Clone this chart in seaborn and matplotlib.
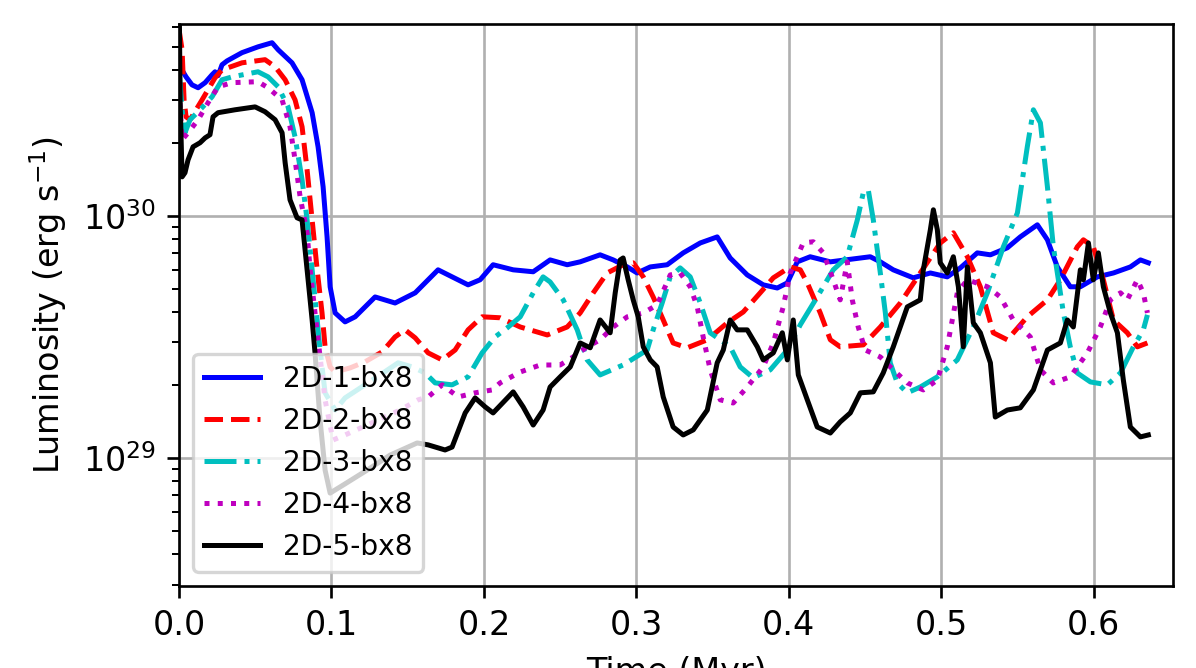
import numpy as np
import pandas as pd
import matplotlib
matplotlib.use("Agg")
import matplotlib.pyplot as plt
import seaborn as sns

# Tempo (Myr) e log10 da luminosidade (erg/s)
t1 = [0.0, 0.0026, 0.0046, 0.0085, 0.0125, 0.0171, 0.0217, 0.0236, 0.0256, 0.0282, 0.0315,
      0.0413, 0.0518, 0.0610, 0.0650, 0.0741, 0.0807, 0.0873, 0.0912, 0.0945, 0.0971, 0.0991,
      0.1024, 0.1089, 0.1155, 0.1286, 0.1417, 0.1549, 0.1699, 0.1896, 0.1975, 0.2060, 0.2192,
      0.2323, 0.2434, 0.2546, 0.2631, 0.2762, 0.2848, 0.2940, 0.3005, 0.3091, 0.3202, 0.3307,
      0.3419, 0.3530, 0.3615, 0.3727, 0.3832, 0.3924, 0.3990, 0.4055, 0.4140, 0.4272, 0.4534,
      0.4600, 0.4685, 0.4816, 0.4928, 0.5039, 0.5125, 0.5236, 0.5322, 0.5433, 0.5518, 0.5630,
      0.5696, 0.5761, 0.5846, 0.5912, 0.6024, 0.6129, 0.6240, 0.6306, 0.6358]
l1 = [30.610, 30.595, 30.574, 30.541, 30.529, 30.550, 30.583, 30.595, 30.579, 30.624, 30.640,
      30.674, 30.698, 30.715, 30.686, 30.632, 30.562, 30.426, 30.285, 30.120, 29.913, 29.707,
      29.599, 29.562, 29.583, 29.665, 29.640, 29.682, 29.777, 29.715, 29.736, 29.798, 29.777,
      29.769, 29.818, 29.798, 29.810, 29.839, 29.818, 29.789, 29.764, 29.789, 29.798, 29.847,
      29.888, 29.913, 29.826, 29.756, 29.715, 29.702, 29.723, 29.810, 29.831, 29.810, 29.831,
      29.810, 29.777, 29.744, 29.764, 29.748, 29.785, 29.847, 29.839, 29.868, 29.913, 29.963,
      29.901, 29.789, 29.707, 29.707, 29.748, 29.764, 29.789, 29.818, 29.806]

t2 = [0.0, 0.0020, 0.0033, 0.0046, 0.0072, 0.0151, 0.0236, 0.0282, 0.0413, 0.0564, 0.0630,
      0.0696, 0.0761, 0.0807, 0.0840, 0.0873, 0.0906, 0.0938, 0.0958, 0.0991, 0.1024, 0.1122,
      0.1220, 0.1332, 0.1417, 0.1483, 0.1549, 0.1634, 0.1726, 0.1811, 0.1896, 0.1988, 0.2106,
      0.2238, 0.2415, 0.2546, 0.2631, 0.2717, 0.2808, 0.2913, 0.2979, 0.3045, 0.3110, 0.3176,
      0.3241, 0.3333, 0.3465, 0.3596, 0.3701, 0.3812, 0.3898, 0.4009, 0.4075, 0.4121, 0.4206,
      0.4272, 0.4337, 0.4488, 0.4600, 0.4731, 0.4862, 0.4993, 0.5079, 0.5171, 0.5256, 0.5341,
      0.5433, 0.5564, 0.5696, 0.5781, 0.5892, 0.5932, 0.5997, 0.6063, 0.6129, 0.6220, 0.6286,
      0.6352]
l2 = [30.769, 30.686, 30.479, 30.409, 30.397, 30.479, 30.570, 30.603, 30.632, 30.645, 30.616,
      30.562, 30.479, 30.368, 30.190, 29.983, 29.777, 29.599, 29.459, 29.376, 29.355, 29.372,
      29.397, 29.438, 29.500, 29.529, 29.496, 29.434, 29.405, 29.446, 29.529, 29.583, 29.579,
      29.541, 29.508, 29.541, 29.599, 29.682, 29.764, 29.798, 29.806, 29.748, 29.665, 29.570,
      29.475, 29.455, 29.488, 29.558, 29.603, 29.682, 29.744, 29.789, 29.777, 29.723, 29.599,
      29.488, 29.459, 29.467, 29.541, 29.640, 29.764, 29.888, 29.930, 29.831, 29.707, 29.517,
      29.488, 29.583, 29.653, 29.736, 29.872, 29.901, 29.872, 29.736, 29.570, 29.517, 29.459,
      29.475]

t3 = [0.0, 0.0020, 0.0039, 0.0072, 0.0138, 0.0217, 0.0282, 0.0348, 0.0518, 0.0584, 0.0650,
      0.0715, 0.0761, 0.0807, 0.0840, 0.0873, 0.0906, 0.0925, 0.0958, 0.1024, 0.1089, 0.1188,
      0.1319, 0.1437, 0.1529, 0.1614, 0.1680, 0.1791, 0.1896, 0.1988, 0.2073, 0.2152, 0.2238,
      0.2323, 0.2388, 0.2434, 0.2520, 0.2612, 0.2677, 0.2762, 0.2913, 0.3071, 0.3110, 0.3169,
      0.3222, 0.3287, 0.3353, 0.3419, 0.3484, 0.3550, 0.3615, 0.3681, 0.3766, 0.3878, 0.3990,
      0.4075, 0.4186, 0.4291, 0.4383, 0.4449, 0.4488, 0.4521, 0.4554, 0.4600, 0.4633, 0.4665,
      0.4711, 0.4777, 0.4862, 0.4974, 0.5105, 0.5210, 0.5302, 0.5407, 0.5499, 0.5564, 0.5604,
      0.5650, 0.5696, 0.5735, 0.5801, 0.5846, 0.5892, 0.5978, 0.6089, 0.6175, 0.6260, 0.6325,
      0.6352]
l3 = [30.603, 30.438, 30.343, 30.397, 30.438, 30.492, 30.562, 30.574, 30.595, 30.574, 30.533,
      30.450, 30.326, 30.149, 29.983, 29.777, 29.570, 29.446, 29.269, 29.198, 29.248, 29.289,
      29.343, 29.393, 29.376, 29.351, 29.310, 29.302, 29.335, 29.434, 29.500, 29.537, 29.583,
      29.682, 29.748, 29.727, 29.653, 29.529, 29.405, 29.343, 29.384, 29.446, 29.529, 29.640,
      29.748, 29.785, 29.748, 29.640, 29.517, 29.488, 29.459, 29.376, 29.331, 29.364, 29.446,
      29.550, 29.665, 29.777, 29.831, 29.983, 30.095, 30.107, 29.983, 29.764, 29.599, 29.393,
      29.310, 29.269, 29.293, 29.335, 29.405, 29.541, 29.682, 29.872, 30.012, 30.285, 30.438,
      30.384, 30.120, 29.872, 29.599, 29.459, 29.351, 29.314, 29.302, 29.351, 29.459, 29.529,
      29.591]

t4 = [0.0, 0.0020, 0.0059, 0.0125, 0.0190, 0.0256, 0.0348, 0.0518, 0.0584, 0.0676, 0.0728,
      0.0761, 0.0794, 0.0840, 0.0860, 0.0892, 0.0912, 0.0958, 0.1010, 0.1089, 0.1234, 0.1450,
      0.1568, 0.1634, 0.1726, 0.1831, 0.1942, 0.2054, 0.2106, 0.2238, 0.2369, 0.2500, 0.2585,
      0.2677, 0.2762, 0.2848, 0.2940, 0.3045, 0.3136, 0.3222, 0.3287, 0.3353, 0.3399, 0.3438,
      0.3484, 0.3550, 0.3635, 0.3727, 0.3832, 0.3898, 0.3963, 0.4009, 0.4094, 0.4160, 0.4226,
      0.4291, 0.4337, 0.4383, 0.4416, 0.4455, 0.4501, 0.4600, 0.4685, 0.4777, 0.4882, 0.4974,
      0.5039, 0.5105, 0.5171, 0.5302, 0.5387, 0.5472, 0.5584, 0.5650, 0.5735, 0.5846, 0.5958,
      0.6043, 0.6109, 0.6175, 0.6220, 0.6286, 0.6325, 0.6352]
l4 = [30.521, 30.314, 30.343, 30.397, 30.467, 30.533, 30.550, 30.554, 30.529, 30.479, 30.368,
      30.231, 30.079, 29.930, 29.777, 29.599, 29.488, 29.240, 29.074, 29.095, 29.136, 29.198,
      29.240, 29.252, 29.302, 29.252, 29.269, 29.281, 29.310, 29.355, 29.384, 29.384, 29.417,
      29.459, 29.488, 29.541, 29.583, 29.599, 29.632, 29.756, 29.764, 29.707, 29.624, 29.500,
      29.364, 29.240, 29.227, 29.293, 29.376, 29.475, 29.624, 29.764, 29.888, 29.893, 29.847,
      29.736, 29.653, 29.810, 29.653, 29.541, 29.446, 29.417, 29.364, 29.310, 29.281, 29.322,
      29.459, 29.682, 29.736, 29.707, 29.665, 29.570, 29.500, 29.364, 29.310, 29.335, 29.434,
      29.541, 29.653, 29.682, 29.653, 29.736, 29.682, 29.599]

t5 = [0.0, 0.0007, 0.0020, 0.0039, 0.0059, 0.0092, 0.0138, 0.0171, 0.0203, 0.0223, 0.0256,
      0.0367, 0.0499, 0.0564, 0.0630, 0.0676, 0.0696, 0.0728, 0.0774, 0.0807, 0.0840, 0.0873,
      0.0892, 0.0925, 0.0958, 0.0991, 0.1089, 0.1234, 0.1385, 0.1562, 0.1634, 0.1745, 0.1791,
      0.1877, 0.1942, 0.2008, 0.2060, 0.2192, 0.2257, 0.2323, 0.2388, 0.2434, 0.2500, 0.2566,
      0.2631, 0.2697, 0.2762, 0.2828, 0.2861, 0.2894, 0.2913, 0.2946, 0.2979, 0.3012, 0.3045,
      0.3091, 0.3136, 0.3176, 0.3241, 0.3307, 0.3373, 0.3465, 0.3530, 0.3570, 0.3615, 0.3661,
      0.3727, 0.3793, 0.3832, 0.3898, 0.3957, 0.3990, 0.4029, 0.4062, 0.4121, 0.4186, 0.4272,
      0.4337, 0.4403, 0.4469, 0.4554, 0.4619, 0.4685, 0.4777, 0.4862, 0.4882, 0.4928, 0.4948,
      0.4974, 0.4993, 0.5039, 0.5079, 0.5112, 0.5144, 0.5171, 0.5210, 0.5256, 0.5322, 0.5354,
      0.5433, 0.5518, 0.5604, 0.5696, 0.5781, 0.5827, 0.5866, 0.5912, 0.5932, 0.5965, 0.5997,
      0.6030, 0.6063, 0.6109, 0.6155, 0.6194, 0.6240, 0.6306, 0.6358]
l5 = [30.975, 30.479, 30.161, 30.178, 30.231, 30.285, 30.302, 30.322, 30.335, 30.409, 30.426,
      30.438, 30.450, 30.430, 30.397, 30.343, 30.219, 30.066, 29.992, 29.983, 29.777, 29.570,
      29.434, 29.157, 28.950, 28.855, 28.893, 28.950, 29.012, 29.062, 29.054, 29.033, 29.045,
      29.186, 29.248, 29.211, 29.186, 29.273, 29.211, 29.136, 29.198, 29.293, 29.335, 29.376,
      29.475, 29.455, 29.570, 29.517, 29.682, 29.818, 29.826, 29.736, 29.653, 29.583, 29.459,
      29.405, 29.376, 29.252, 29.128, 29.095, 29.116, 29.198, 29.393, 29.446, 29.570, 29.529,
      29.529, 29.459, 29.405, 29.434, 29.517, 29.405, 29.570, 29.343, 29.240, 29.128, 29.103,
      29.149, 29.186, 29.269, 29.273, 29.351, 29.459, 29.624, 29.653, 29.777, 29.942, 30.025,
      29.942, 29.806, 29.764, 29.831, 29.707, 29.459, 29.789, 29.558, 29.517, 29.393, 29.169,
      29.198, 29.207, 29.281, 29.446, 29.475, 29.570, 29.541, 29.777, 29.736, 29.888, 29.736,
      29.847, 29.707, 29.599, 29.517, 29.322, 29.128, 29.087, 29.095]

rotulos = ['2D-1-bx8', '2D-2-bx8', '2D-3-bx8', '2D-4-bx8', '2D-5-bx8']
cores = ['b', 'r', 'c', 'm', 'k']
estilos = ['-', '--', '-.', ':', '-']
tempos = [t1, t2, t3, t4, t5]
lums = [l1, l2, l3, l4, l5]

fig = plt.figure(figsize=(1196 / 240, 668 / 240), dpi=240)
ax = fig.add_axes([0.1497, 0.1228, 0.8311, 0.8413])

for t, l, rot, cor, est in zip(tempos, lums, rotulos, cores, estilos):
    df = pd.DataFrame({'tempo': t, 'lum': 10 ** np.array(l)})
    sns.lineplot(data=df, x='tempo', y='lum', ax=ax, color=cor, linestyle=est,
                 linewidth=1.5, label=rot, sort=False, estimator=None)

ax.set_yscale('log')
ax.set_xlim(0, 0.652)
ax.set_ylim(2.96e28, 6.2e30)
ax.set_xticks([0.0, 0.1, 0.2, 0.3, 0.4, 0.5, 0.6])
ax.grid(True, which='major')
ax.set_xlabel('Time (Myr)')
ax.set_ylabel(r'Luminosity (erg s$^{-1}$)')
ax.legend(loc='lower left', fontsize=8.4)

fig.savefig('out.png', dpi=240)
